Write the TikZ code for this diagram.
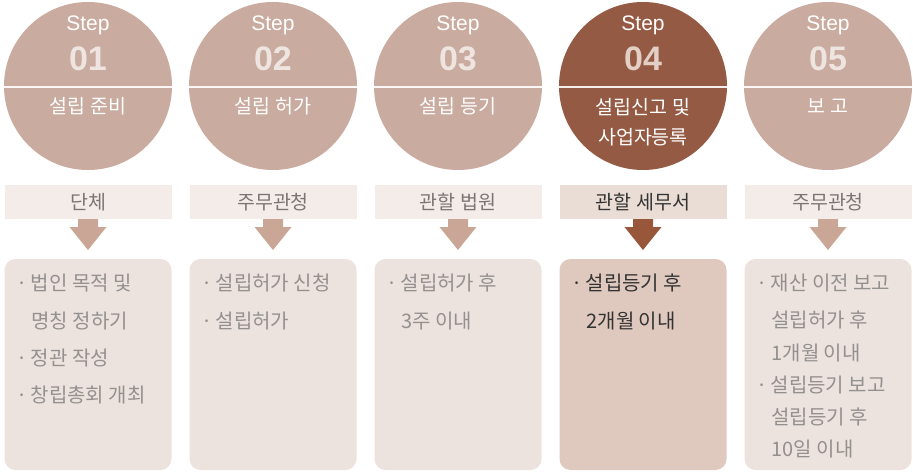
\documentclass[tikz,border=0pt]{standalone}
\usepackage{fontspec}
\setmainfont{Liberation Sans}
\newfontfamily\kr{Noto Sans CJK KR}
\definecolor{circL}{HTML}{C9ABA0}
\definecolor{circD}{HTML}{955A43}
\definecolor{bandL}{HTML}{F4ECE8}
\definecolor{bandD}{HTML}{EADDD5}
\definecolor{boxL}{HTML}{EDE3DE}
\definecolor{boxD}{HTML}{DFC9BE}
\definecolor{arrL}{HTML}{C9A696}
\definecolor{arrD}{HTML}{98563A}
\definecolor{numL}{HTML}{EFE5E0}
\definecolor{numD}{HTML}{E2CFC6}
\definecolor{txtL}{HTML}{939090}
\definecolor{txtD}{HTML}{333333}
\definecolor{bandtxtL}{HTML}{7A7574}
\tikzset{
  stepword/.style={text=white, font=\fontsize{21}{21}\selectfont},
  stepnum/.style={font=\bfseries\fontsize{34}{34}\selectfont},
  steplabel/.style={text=white, font=\kr\fontsize{19.5}{30}\selectfont, align=center},
  bandtext/.style={font=\kr\fontsize{19.5}{19.5}\selectfont},
  boxline/.style={anchor=west, font=\kr\fontsize{20}{20}\selectfont},
}
\newcommand{\stepcol}[9]{%
  \fill[#3] (#2,86) circle[radius=84];
  \draw[white!90!#3, line width=1.4pt] (#2-84,87) -- (#2+84,87);
  \node[stepword] (sw#1) at (#2,25) {Step};
  \node[stepnum, text=#4] (sn#1) at (#2,59) {#9};
  \fill[#5] (#2-83.5,185) rectangle (#2+83.5,219);
  \fill[#6, rounded corners=11] (#2-83.5,259) rectangle (#2+83.5,470);
  \fill[#7] (#2-10,219) -- (#2+10,219) -- (#2+10,227) -- (#2+18.5,227) -- (#2,250) -- (#2-18.5,227) -- (#2-10,227) -- cycle;
}
\newcommand{\bul}{·\hspace{3pt}}
\begin{document}
\begin{tikzpicture}[x=1pt,y=-1pt]
\useasboundingbox (0,0) rectangle (913,472);
% column 1
\stepcol{1}{88}{circL}{numL}{bandL}{boxL}{arrL}{bandtxtL}{01}
\node[steplabel] (sl1) at (88,106) {설립 준비};
\node[bandtext, text=bandtxtL] (bt1) at (88,202) {단체};
\node[boxline, text=txtL] (a1) at (13,283) {\bul 법인 목적 및};
\node[boxline, text=txtL] (a2) at (28,321) {명칭 정하기};
\node[boxline, text=txtL] (a3) at (13,358) {\bul 정관 작성};
\node[boxline, text=txtL] (a4) at (13,395) {\bul 창립총회 개최};
% column 2
\stepcol{2}{273}{circL}{numL}{bandL}{boxL}{arrL}{bandtxtL}{02}
\node[steplabel] (sl2) at (273,106) {설립 허가};
\node[bandtext, text=bandtxtL] (bt2) at (273,202) {주무관청};
\node[boxline, text=txtL] (b1) at (198,283) {\bul 설립허가 신청};
\node[boxline, text=txtL] (b2) at (198,321) {\bul 설립허가};
% column 3
\stepcol{3}{458}{circL}{numL}{bandL}{boxL}{arrL}{bandtxtL}{03}
\node[steplabel] (sl3) at (458,106) {설립 등기};
\node[bandtext, text=bandtxtL] (bt3) at (458,202) {관할 법원};
\node[boxline, text=txtL] (c1) at (383,283) {\bul 설립허가 후};
\node[boxline, text=txtL] (c2) at (398,321) {3주 이내};
% column 4
\stepcol{4}{643}{circD}{numD}{bandD}{boxD}{arrD}{txtD}{04}
\node[steplabel] (sl4) at (643,122) {설립신고 및\\사업자등록};
\node[bandtext, text=txtD] (bt4) at (643,202) {관할 세무서};
\node[boxline, text=txtD] (d1) at (568,283) {\bul 설립등기 후};
\node[boxline, text=txtD] (d2) at (583,321) {2개월 이내};
% column 5
\stepcol{5}{828}{circL}{numL}{bandL}{boxL}{arrL}{bandtxtL}{05}
\node[steplabel] (sl5) at (828,106) {보 고};
\node[bandtext, text=bandtxtL] (bt5) at (828,202) {주무관청};
\node[boxline, text=txtL] (e1) at (753,283) {\bul 재산 이전 보고};
\node[boxline, text=txtL] (e2) at (768,320) {설립허가 후};
\node[boxline, text=txtL] (e3) at (768,353) {1개월 이내};
\node[boxline, text=txtL] (e4) at (753,385) {\bul 설립등기 보고};
\node[boxline, text=txtL] (e5) at (768,417) {설립등기 후};
\node[boxline, text=txtL] (e6) at (768,449) {10일 이내};
\end{tikzpicture}
\end{document}
